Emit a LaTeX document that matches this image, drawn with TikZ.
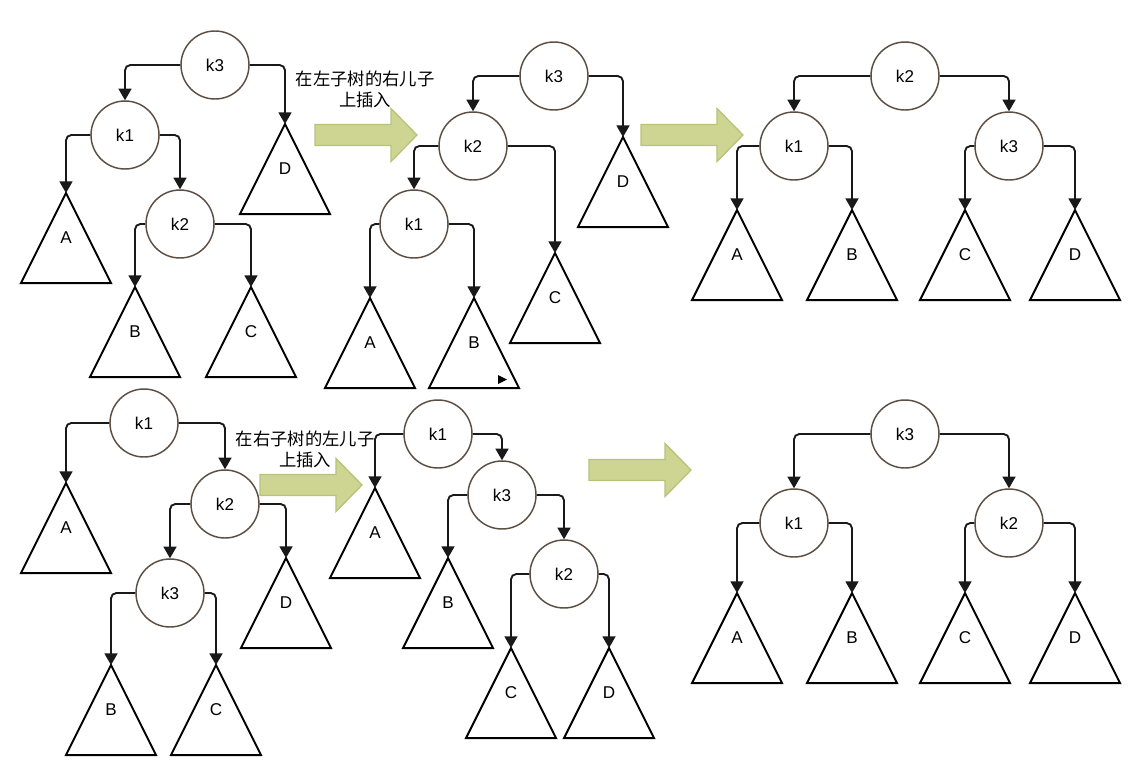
\documentclass[tikz,border=0pt]{standalone}
\usepackage{fontspec}
\setmainfont{Liberation Sans}
\newfontfamily\cjk{Noto Sans CJK SC}
\usepackage{xcolor}
\usepackage{tikz}
\usetikzlibrary{calc,arrows,positioning}

\definecolor{circleBorder}{RGB}{92,78,66}
\definecolor{arrowFill}{RGB}{206,213,146}
\definecolor{arrowBorder}{RGB}{184,195,122}

\begin{document}
\begin{tikzpicture}[x=0.75pt,y=-0.75pt]

\tikzset{keyCircle/.style={circle, draw=circleBorder, line width=1.1pt, minimum size=51pt, inner sep=0pt, font=\fontsize{12.8}{15}\selectfont},
keyText/.style={inner sep=0pt, font=\fontsize{12.8}{15}\selectfont},
subTree/.style={draw=black, line width=1.5pt},
treeLink/.style={-triangle 60, draw=black!90, line width=1.4pt, rounded corners=4pt},
bigArrow/.style={fill=arrowFill, draw=arrowBorder, line width=1pt},
noteText/.style={align=center, inner sep=0pt, font=\cjk\fontsize{13}{15.8}\selectfont}}

\useasboundingbox (0,0) rectangle (1140,775);

%the key nodes of all six trees
\foreach \n/\x/\y/\t in {p1k3/215/65/k3, p1k1/125/135/k1, p1k2/180/224/k2,
    p2k3/554/76/k3, p2k2/473/146/k2, p2k1/414/224/k1,
    p3k2/905/76/k2, p3k1/794/146/k1, p3k3/1009/146/k3,
    p4k1/144/423/k1, p4k2/225/504/k2, p4k3/170/593/k3,
    p5k1/438/434/k1, p5k3/502/495/k3, p5k2/564/574/k2,
    p6k3/905/434/k3, p6k1/794/523/k1, p6k2/1009/523/k2}
  \node[keyCircle] (\n) at (\x,\y) {\t};

%the subtrees, apex is the named coordinate
\foreach \n/\x/\y/\t in {p1A/66/193/A, p1B/135/287/B, p1C/251/287/C, p1D/285/124/D,
    p2A/370/298/A, p2B/474/298/B, p2C/555/253/C, p2D/623/137/D,
    p3A/737/210/A, p3B/852/210/B, p3C/965/210/C, p3D/1075/210/D,
    p4A/66/483/A, p4B/111/665/B, p4C/216/665/C, p4D/286/558/D,
    p5A/375/488/A, p5B/448/558/B, p5C/511/648/C, p5D/609/648/D,
    p6A/737/593/A, p6B/852/593/B, p6C/965/593/C, p6D/1075/593/D}
{
  \draw[subTree] (\x,\y) coordinate (\n) -- ++(45,90) -- ++(-90,0) -- cycle;
  \node[keyText] (\n-lbl) at (\x,\y+45) {\t};
}

\fill (498,375) -- (507,379.5) -- (498,384) -- cycle;

%links from parent to child
\foreach \a/\b in {p1k3.west/p1k1.north, p1k3.east/p1D, p1k1.west/p1A, p1k1.east/p1k2.north, p1k2.west/p1B, p1k2.east/p1C,
    p2k3.west/p2k2.north, p2k3.east/p2D, p2k2.west/p2k1.north, p2k2.east/p2C, p2k1.west/p2A, p2k1.east/p2B,
    p3k2.west/p3k1.north, p3k2.east/p3k3.north, p3k1.west/p3A, p3k1.east/p3B, p3k3.west/p3C, p3k3.east/p3D,
    p4k1.west/p4A, p4k1.east/p4k2.north, p4k2.west/p4k3.north, p4k2.east/p4D, p4k3.west/p4B, p4k3.east/p4C,
    p5k1.west/p5A, p5k1.east/p5k3.north, p5k3.west/p5B, p5k3.east/p5k2.north, p5k2.west/p5C, p5k2.east/p5D,
    p6k3.west/p6k1.north, p6k3.east/p6k2.north, p6k1.west/p6A, p6k1.east/p6B, p6k2.west/p6C, p6k2.east/p6D}
  \draw[treeLink] (\a) -| (\b);

%now the big arrows between the trees
\foreach \x/\y in {315/135, 641/135, 260/485, 589/470}
  \draw[bigArrow] (\x,\y-10.5) -- ++(76,0) -- ++(0,-16) -- ++(26,26.5) -- ++(-26,26.5) -- ++(0,-16) -- ++(-76,0) -- cycle;

\node[noteText] (note1) at (365,89.5) {在左子树的右儿子\\上插入};
\node[noteText] (note2) at (305,449.5) {在右子树的左儿子\\上插入};

\end{tikzpicture}
\end{document}
